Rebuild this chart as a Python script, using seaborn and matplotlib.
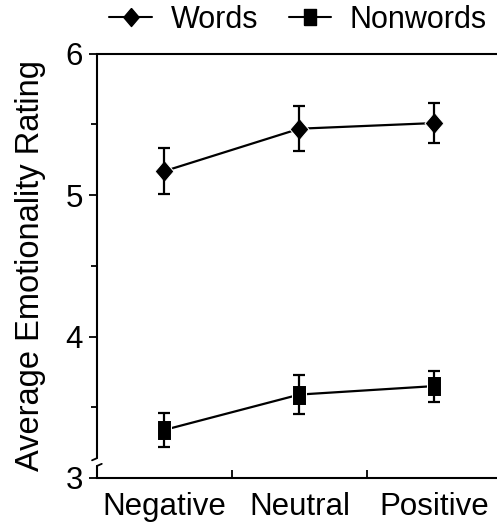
import pandas as pd
import matplotlib.pyplot as plt
import seaborn as sns
from matplotlib.ticker import FixedLocator

# ===========================
# DATA
# ===========================
CONDITIONS = ["Negative", "Neutral", "Positive"]
WORDS_MEAN = [5.17, 5.47, 5.51]
WORDS_ERR = [0.16, 0.16, 0.14]
NONWORDS_MEAN = [3.34, 3.59, 3.65]
NONWORDS_ERR = [0.12, 0.14, 0.11]
GROUPS = ["Words", "Nonwords"]

df = pd.DataFrame({
    "Condition": CONDITIONS * 2,
    "Rating": WORDS_MEAN + NONWORDS_MEAN,
    "Err": WORDS_ERR + NONWORDS_ERR,
    "Group": [GROUPS[0]] * 3 + [GROUPS[1]] * 3,
})

# ===========================
# STYLE
# ===========================
sns.set_style("ticks")
plt.rcParams["font.family"] = ["Liberation Sans", "DejaVu Sans"]
plt.rcParams["text.color"] = "black"
plt.rcParams["axes.labelcolor"] = "black"
plt.rcParams["xtick.color"] = "black"
plt.rcParams["ytick.color"] = "black"

fig = plt.figure(figsize=(4.97, 5.27), dpi=100)
ax = fig.add_axes([0.195, 0.093, 0.815, 0.805])

diamond = [(0, 1), (0.85, 0), (0, -1), (-0.85, 0), (0, 1)]
rect = [(-0.68, -1), (0.68, -1), (0.68, 1), (-0.68, 1), (-0.68, -1)]
markers = {"Words": diamond, "Nonwords": rect}
sizes = {"Words": 16, "Nonwords": 15}

sns.lineplot(
    data=df, x="Condition", y="Rating", hue="Group", style="Group",
    palette={"Words": "black", "Nonwords": "black"},
    markers=markers, dashes=False, linewidth=1.6, ax=ax, legend=False,
)

# Marker groesse und Fehlerbalken
for line, g in zip(ax.get_lines(), GROUPS):
    line.set_markersize(sizes[g])
for g in GROUPS:
    sub = df[df["Group"] == g]
    ax.errorbar(range(len(sub)), sub["Rating"], yerr=sub["Err"], fmt="none",
                ecolor="black", elinewidth=1.6, capsize=4.5, capthick=1.6)

# Achsen
ax.set_xlim(-0.5, 2.5)
ax.set_ylim(3, 6)
ax.set_xlabel("")
ax.set_ylabel("Average Emotionality Rating", fontsize=23.5)
ax.yaxis.set_label_coords(-0.125, 0.5)
ax.set_xticks([0, 1, 2])
ax.set_xticklabels(CONDITIONS, fontsize=22.5)
ax.tick_params(axis="x", length=0, pad=10)
ax.xaxis.set_minor_locator(FixedLocator([0.5, 1.5]))
ax.tick_params(axis="x", which="minor", length=6, width=1.3, direction="in")
ax.set_yticks([3, 4, 5, 6])
ax.set_yticklabels(["3", "4", "5", "6"], fontsize=22.5)
ax.yaxis.set_minor_locator(FixedLocator([3.5, 4.5, 5.5]))
ax.tick_params(axis="y", which="major", length=6, width=1.3, direction="out", pad=4)
ax.tick_params(axis="y", which="minor", length=4, width=1.3, direction="out")

for s in ["top", "bottom"]:
    ax.spines[s].set_linewidth(1.5)
    ax.spines[s].set_color("black")
ax.spines["right"].set_visible(False)
ax.spines["left"].set_visible(False)

# Achsenbruch
tr = ax.get_yaxis_transform()
ax.plot([0, 0], [6, 3.14], color="black", lw=1.5, transform=tr, clip_on=False)
ax.plot([0, -0.012], [3.14, 3.125], color="black", lw=1.3, transform=tr, clip_on=False)
ax.plot([0, 0], [3.085, 3.0], color="black", lw=1.5, transform=tr, clip_on=False)
ax.plot([0, 0.012], [3.085, 3.1], color="black", lw=1.3, transform=tr, clip_on=False)

# Legende
handles = [
    plt.Line2D([], [], color="black", lw=1.5, marker=diamond, markersize=13),
    plt.Line2D([], [], color="black", lw=1.5, marker=rect, markersize=12),
]
fig.legend(handles, GROUPS, loc="center", bbox_to_anchor=(0.6, 0.962), ncol=2,
           frameon=False, fontsize=22, handlelength=1.4, handletextpad=0.6,
           columnspacing=1.0, borderpad=0)

fig.savefig("out.png", dpi=100)
